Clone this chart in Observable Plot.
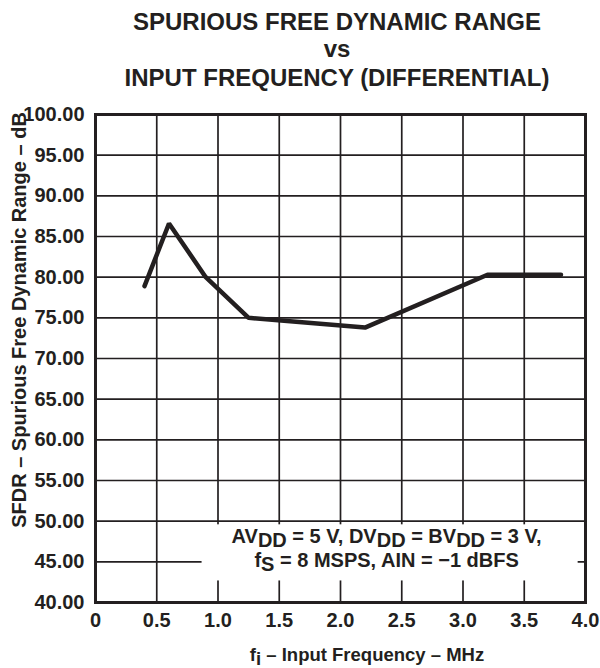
<!DOCTYPE html>
<html>
<head>
<meta charset="utf-8">
<script src="https://cdn.jsdelivr.net/npm/d3@7"></script>
<script src="https://cdn.jsdelivr.net/npm/@observablehq/plot@0.6"></script>
<style>
  html, body { margin: 0; padding: 0; background: #ffffff; }
  #chart svg { display: block; }
</style>
</head>
<body>
<div id="chart"></div>
<script>
// ---- data ----
const freqMHz = [0.4, 0.6, 0.9, 1.25, 2.2, 3.2, 3.8];
const sfdrDb  = [78.9, 86.6, 80.0, 75.0, 73.8, 80.3, 80.3];

const xTicks = [0, 0.5, 1.0, 1.5, 2.0, 2.5, 3.0, 3.5, 4.0];
const xTickLabels = ["0", "0.5", "1.0", "1.5", "2.0", "2.5", "3.0", "3.5", "4.0"];
const yTicks = [40, 45, 50, 55, 60, 65, 70, 75, 80, 85, 90, 95, 100];
const yTickLabels = ["40.00", "45.00", "50.00", "55.00", "60.00", "65.00", "70.00",
                     "75.00", "80.00", "85.00", "90.00", "95.00", "100.00"];

const titleLines = ["SPURIOUS FREE DYNAMIC RANGE", "vs", "INPUT FREQUENCY (DIFFERENTIAL)"];
const yLabel = "SFDR \u2013 Spurious Free Dynamic Range \u2013 dB";
// x label parts: [text, isSubscript]
const xLabelParts = [["f", false], ["i", true], [" \u2013 Input Frequency \u2013 MHz", false]];
// conditions note (two lines)
const noteLine1 = [["AV", false], ["DD", true], [" = 5 V, DV", false], ["DD", true],
                   [" = BV", false], ["DD", true], [" = 3 V,", false]];
const noteLine2 = [["f", false], ["S", true], [" = 8 MSPS, AIN = \u22121 dBFS", false]];
// extent of the note panel in data units
const noteFreq = [0.87, 3.94];
const noteDb = [42.65, 49.55];

// ---- chart ----
const ink = "#231f20";
const font = "'Liberation Sans', Arial, Helvetica, sans-serif";
const points = freqMHz.map((f, i) => ({f, v: sfdrDb[i]}));
const xLab = new Map(xTicks.map((t, i) => [t, xTickLabels[i]]));
const yLab = new Map(yTicks.map((t, i) => [t, yTickLabels[i]]));

const plot = Plot.plot({
  width: 600,
  height: 668,
  marginLeft: 95,
  marginRight: 15,
  marginTop: 114,
  marginBottom: 66,
  style: {fontFamily: font, fontWeight: "bold", color: ink, background: "#ffffff", overflow: "visible"},
  x: {domain: [0, 4], label: null},
  y: {domain: [40, 100], label: null},
  marks: [
    Plot.gridX(xTicks, {stroke: ink, strokeOpacity: 1, strokeWidth: 1.7}),
    Plot.gridY(yTicks, {stroke: ink, strokeOpacity: 1, strokeWidth: 1.7}),
    Plot.rect([{x1: noteFreq[0], x2: noteFreq[1], y1: noteDb[0], y2: noteDb[1]}],
      {x1: "x1", x2: "x2", y1: "y1", y2: "y2", fill: "#ffffff"}),
    Plot.frame({stroke: ink, strokeWidth: 3}),
    Plot.axisX(xTicks, {tickSize: 0, tickPadding: 10, fontSize: 20, fill: ink,
      tickFormat: d => xLab.get(d), label: null}),
    Plot.axisY(yTicks, {tickSize: 0, tickPadding: 11, fontSize: 20, fill: ink,
      tickFormat: d => yLab.get(d), label: null}),
    Plot.line(points, {x: "f", y: "v", stroke: ink, strokeWidth: 4.5,
      strokeLinejoin: "miter", strokeLinecap: "round"})
  ]
});

document.getElementById("chart").appendChild(plot);

// ---- text annotations ----
const svg = d3.select(plot);
const g = svg.append("g")
  .attr("fill", ink)
  .attr("font-family", font)
  .attr("font-weight", "bold");

function richText(parent, parts, x, y, size, subShift) {
  const t = parent.append("text").attr("x", x).attr("y", y)
    .attr("text-anchor", "middle").attr("font-size", size);
  let shifted = 0;
  parts.forEach(([s, sub]) => {
    const want = sub ? subShift : 0;
    t.append("tspan").attr("dy", want - shifted).text(s);
    shifted = want;
  });
  return t;
}

const titleBaselines = [30, 57, 86];
titleLines.forEach((line, i) => {
  g.append("text").attr("x", 337).attr("y", titleBaselines[i])
    .attr("text-anchor", "middle").attr("font-size", 24).text(line);
});

g.append("text")
  .attr("transform", "translate(26,320) rotate(-90)")
  .attr("text-anchor", "middle").attr("font-size", 20)
  .text(yLabel);

richText(g, xLabelParts, 367, 661, 18.5, 4);

const xs = plot.scale("x");
const noteCx = (xs.apply(noteFreq[0]) + xs.apply(noteFreq[1])) / 2 - 3;
richText(g, noteLine1, noteCx, 543, 20, 3.5);
richText(g, noteLine2, noteCx, 567, 20, 3.5);
</script>
</body>
</html>
